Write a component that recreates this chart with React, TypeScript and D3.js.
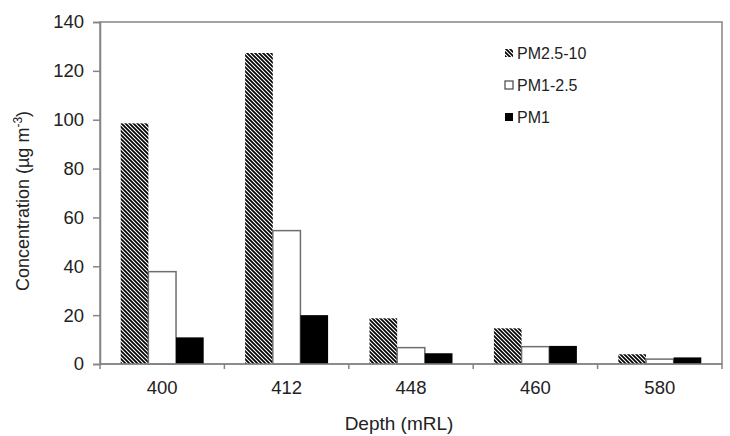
import { useEffect, useRef } from 'react';
import * as d3 from 'd3';

const DEPTHS = ['400', '412', '448', '460', '580'];
const SERIES = ['PM2.5-10', 'PM1-2.5', 'PM1'];
const PM25_10 = [98.5, 127.3, 18.7, 14.6, 4.0];
const PM1_25 = [37.8, 54.6, 6.7, 7.1, 2.0];
const PM1 = [10.9, 20.0, 4.4, 7.4, 2.7];
const Y_TICKS = [0, 20, 40, 60, 80, 100, 120, 140];

const W = 730;
const H = 436;
const FONT = "'Liberation Sans', Arial, sans-serif";
const AXIS_GRAY = '#858585';

export default function App() {
  const svgRef = useRef<SVGSVGElement>(null);

  useEffect(() => {
    const svg = d3.select(svgRef.current);
    svg.selectAll('*').remove();
    const margin = { top: 22, right: 8, bottom: 72, left: 100 };
    const width = W - margin.left - margin.right;
    const height = H - margin.top - margin.bottom;

    // hatch pattern, lines going top-left to bottom-right
    const defs = svg.append('defs');
    const pat = defs.append('pattern')
      .attr('id', 'hatch')
      .attr('patternUnits', 'userSpaceOnUse')
      .attr('width', 4)
      .attr('height', 4);
    pat.append('rect').attr('width', 4).attr('height', 4).attr('fill', '#fff');
    pat.append('path')
      .attr('d', 'M-1,-1 L5,5 M-1,3 L1,5 M3,-1 L5,1')
      .attr('stroke', '#000')
      .attr('stroke-width', 1.7);

    const g = svg.append('g').attr('transform', `translate(${margin.left},${margin.top})`);

    const x = d3.scaleBand().domain(DEPTHS).range([0, width]).paddingInner(0).paddingOuter(0);
    const groupW = x.bandwidth() * 0.667;
    const x1 = d3.scaleBand().domain(SERIES).range([0, groupW]);
    const y = d3.scaleLinear().domain([0, 140]).range([height, 0]);

    const rows = DEPTHS.map((d, i) => ({ depth: d, vals: [PM25_10[i], PM1_25[i], PM1[i]] }));
    const fills = ['url(#hatch)', '#fff', '#000'];
    const strokes = ['none', '#6e6e6e', 'none'];

    // frame
    g.append('rect')
      .attr('width', width).attr('height', height)
      .attr('fill', 'none').attr('stroke', AXIS_GRAY).attr('stroke-width', 1.5);

    rows.forEach(r => {
      const off = (x(r.depth) as number) + (x.bandwidth() - groupW) / 2;
      r.vals.forEach((v, j) => {
        g.append('rect')
          .attr('x', off + (x1(SERIES[j]) as number))
          .attr('y', y(v))
          .attr('width', x1.bandwidth())
          .attr('height', height - y(v))
          .attr('fill', fills[j])
          .attr('stroke', strokes[j])
          .attr('stroke-width', 1.5);
      });
    });

    // y axis
    const ya = g.append('g')
      .call(d3.axisLeft(y).tickValues(Y_TICKS).tickSize(7).tickPadding(9));
    ya.selectAll('line, path').attr('stroke', AXIS_GRAY).attr('stroke-width', 1.5);
    ya.selectAll('text').style('font-family', FONT).style('font-size', '18.5px').attr('fill', '#222');

    // x axis, ticks between categories
    const xa = g.append('g').attr('transform', `translate(0,${height})`);
    xa.append('line').attr('x1', 0).attr('x2', width).attr('stroke', AXIS_GRAY).attr('stroke-width', 1.5);
    d3.range(DEPTHS.length + 1).forEach(i => {
      xa.append('line')
        .attr('x1', i * x.step()).attr('x2', i * x.step())
        .attr('y1', 0).attr('y2', 5)
        .attr('stroke', AXIS_GRAY).attr('stroke-width', 1.5);
    });
    DEPTHS.forEach(d => {
      xa.append('text')
        .attr('x', (x(d) as number) + x.bandwidth() / 2)
        .attr('y', 30)
        .attr('text-anchor', 'middle')
        .style('font-family', FONT).style('font-size', '18.5px').attr('fill', '#222')
        .text(d);
    });

    // axis titles
    svg.append('text')
      .attr('x', 399).attr('y', 430)
      .attr('text-anchor', 'middle')
      .style('font-family', FONT).style('font-size', '19px').attr('fill', '#222')
      .text('Depth (mRL)');
    const yt = svg.append('text')
      .attr('transform', 'translate(29,201) rotate(-90)')
      .attr('text-anchor', 'middle')
      .style('font-family', FONT).style('font-size', '18px').attr('fill', '#222');
    yt.append('tspan').text('Concentration (µg m');
    yt.append('tspan').attr('dy', -7).style('font-size', '12px').text('-3');
    yt.append('tspan').attr('dy', 7).text(')');

    // legend
    const leg = svg.append('g').attr('transform', 'translate(505,0)');
    const legY = [53, 85, 117];
    SERIES.forEach((s, j) => {
      leg.append('rect')
        .attr('x', 0).attr('y', legY[j] - 4)
        .attr('width', 8).attr('height', 8)
        .attr('fill', fills[j])
        .attr('stroke', j === 1 ? '#444' : 'none')
        .attr('stroke-width', 1.2);
      leg.append('text')
        .attr('x', 12).attr('y', legY[j])
        .attr('dy', '0.35em')
        .style('font-family', FONT).style('font-size', '16px').attr('fill', '#222')
        .text(s);
    });
  }, []);

  return (
    <div>
      <style>{'body{margin:0}'}</style>
      <svg ref={svgRef} width={W} height={H} style={{ display: 'block', background: '#fff' }} />
    </div>
  );
}
